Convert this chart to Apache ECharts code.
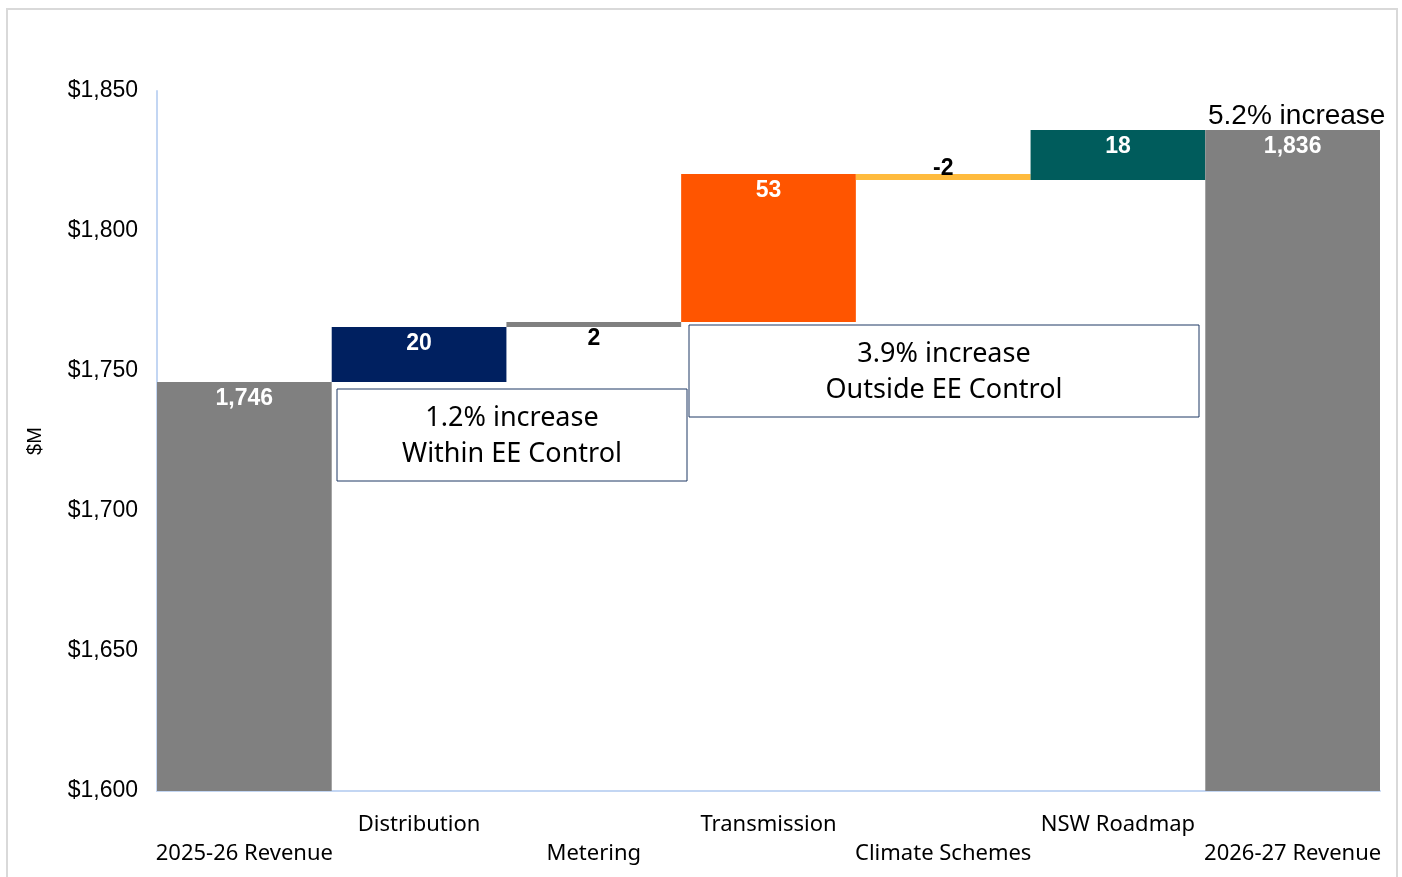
<!DOCTYPE html>
<html>
<head>
<meta charset="utf-8">
<title>Revenue bridge 2025-26 to 2026-27</title>
<script src="https://cdn.jsdelivr.net/npm/echarts@6/dist/echarts.min.js"></script>
<style>
  html, body { margin: 0; padding: 0; background: #ffffff; }
  #chart { width: 1402px; height: 877px; }
</style>
</head>
<body>
<div id="chart"></div>
<script>
// Revenue bridge ($M): opening revenue, component changes, closing revenue
const categories = ['2025-26 Revenue', 'Distribution', 'Metering', 'Transmission', 'Climate Schemes', 'NSW Roadmap', '2026-27 Revenue'];
const openingRevenue = 1746.1;
const changes = [19.6, 1.8, 52.9, -2.2, 17.9]; // Distribution, Metering, Transmission, Climate Schemes, NSW Roadmap
const barColors = ['#808080', '#002060', '#808080', '#FF5500', '#FFBB3D', '#005C5C', '#808080'];
const yMin = 1600, yMax = 1850, yStep = 50;

// Floating bars: invisible base + visible segment
const closingRevenue = changes.reduce((s, d) => s + d, openingRevenue);
const baseValues = [0];
const segValues = [openingRevenue];
const shownValues = [openingRevenue];
let running = openingRevenue;
changes.forEach(d => {
  const next = running + d;
  baseValues.push(Math.min(running, next));
  segValues.push(Math.abs(d));
  shownValues.push(d);
  running = next;
});
baseValues.push(0);
segValues.push(closingRevenue);
shownValues.push(closingRevenue);

const fmt = v => Math.round(v).toLocaleString('en-US');

const segData = segValues.map((v, i) => {
  const item = { value: v, itemStyle: { color: barColors[i] } };
  if (i === 2) item.label = { position: 'bottom', distance: 0, color: '#000000' };
  if (i === 4) item.label = { position: 'top', distance: -6, color: '#000000' };
  return item;
});

const chart = echarts.init(document.getElementById('chart'), null, { renderer: 'canvas' });

const boxText = { fontFamily: 'Noto Sans', fontSize: 27, fill: '#000000', lineHeight: 36 };

chart.setOption({
  animation: false,
  backgroundColor: '#ffffff',
  grid: { left: 157, right: 22, top: 91, bottom: 86, containLabel: false },
  xAxis: {
    type: 'category',
    data: categories,
    axisLine: { show: true, lineStyle: { color: '#C3D6F3', width: 2 } },
    axisTick: { show: false },
    axisLabel: {
      interval: 0,
      margin: 19,
      fontFamily: 'Noto Sans',
      fontSize: 22,
      lineHeight: 29,
      color: '#000000',
      verticalAlign: 'top',
      formatter: (v, i) => (i % 2 === 0 ? '\n' + v : v)
    }
  },
  yAxis: {
    type: 'value',
    min: yMin,
    max: yMax,
    interval: yStep,
    name: '$M',
    nameLocation: 'middle',
    nameGap: 112,
    nameRotate: 90,
    nameTextStyle: { fontFamily: 'Liberation Sans', fontSize: 20, color: '#000000' },
    axisLine: { show: true, lineStyle: { color: '#C3D6F3', width: 2 } },
    axisTick: { show: false },
    splitLine: { show: false },
    axisLabel: {
      margin: 19,
      padding: [4, 0, 0, 0],
      fontFamily: 'Liberation Sans',
      fontSize: 23,
      color: '#000000',
      formatter: v => '$' + fmt(v)
    }
  },
  series: [
    {
      name: 'base',
      type: 'bar',
      stack: 'bridge',
      data: baseValues,
      itemStyle: { color: 'transparent' },
      barCategoryGap: '0%',
      silent: true
    },
    {
      name: 'value',
      type: 'bar',
      stack: 'bridge',
      data: segData,
      barCategoryGap: '0%',
      label: {
        show: true,
        position: 'insideTop',
        distance: 5,
        fontFamily: 'Liberation Sans',
        fontWeight: 'bold',
        fontSize: 23,
        color: '#ffffff',
        formatter: p => fmt(shownValues[p.dataIndex])
      }
    }
  ],
  graphic: [
    {
      type: 'rect', z: -10,
      shape: { x: 7, y: 9, width: 1390, height: 880 },
      style: { fill: 'none', stroke: '#D9D9D9', lineWidth: 2 }
    },
    {
      type: 'group', x: 337, y: 389, children: [
        { type: 'rect', shape: { x: 0, y: 0, width: 350, height: 92 },
          style: { fill: '#ffffff', stroke: '#1F3864', lineWidth: 1 } },
        { type: 'text', x: 175, y: 47,
          style: Object.assign({ text: '1.2% increase\nWithin EE Control', align: 'center', verticalAlign: 'middle' }, boxText) }
      ]
    },
    {
      type: 'group', x: 689, y: 325, children: [
        { type: 'rect', shape: { x: 0, y: 0, width: 510, height: 92 },
          style: { fill: '#ffffff', stroke: '#1F3864', lineWidth: 1 } },
        { type: 'text', x: 255, y: 47,
          style: Object.assign({ text: '3.9% increase\nOutside EE Control', align: 'center', verticalAlign: 'middle' }, boxText) }
      ]
    },
    {
      type: 'text', x: 1208, y: 116,
      style: { text: '5.2% increase', fontFamily: 'Liberation Sans', fontSize: 28, fill: '#000000', align: 'left', verticalAlign: 'middle' }
    }
  ]
});
</script>
</body>
</html>
